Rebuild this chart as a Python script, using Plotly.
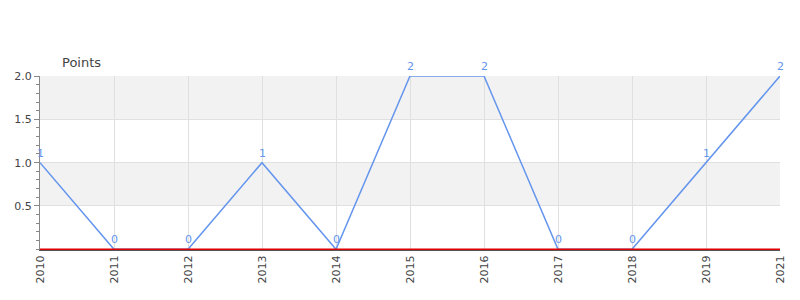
import plotly.graph_objects as go

years = ["2010", "2011", "2012", "2013", "2014", "2015", "2016", "2017", "2018", "2019", "2021"]
points = [1, 0, 0, 1, 0, 2, 2, 0, 0, 1, 2]
band_ranges = [(0.5, 1.0), (1.5, 2.0)]
y_ticks = [0.5, 1.0, 1.5, 2.0]

fig = go.Figure()
fig.add_trace(go.Scatter(
    x=years, y=points, mode="lines",
    line=dict(color="#6495ED", width=1.5),
    cliponaxis=False, hoverinfo="x+y",
))

for lo, hi in band_ranges:
    fig.add_shape(type="rect", xref="paper", yref="y", x0=0, x1=1, y0=lo, y1=hi,
                  fillcolor="#f2f2f2", line=dict(width=0), layer="below")

# red baseline at zero
fig.add_shape(type="line", xref="paper", yref="y", x0=0, x1=1, y0=0, y1=0,
              line=dict(color="#e00000", width=1.5), layer="above")

annotations = [dict(text="Points", xref="paper", yref="paper", x=0, y=1, xshift=20, yshift=4,
                    xanchor="left", yanchor="bottom", showarrow=False,
                    font=dict(size=13, color="#444"))]
for i, v in enumerate(points):
    annotations.append(dict(x=i, y=v, xref="x", yref="y", text=str(v), showarrow=False,
                            yanchor="bottom", yshift=1,
                            font=dict(color="#6495ED", size=11, family="DejaVu Sans")))

fig.update_layout(
    width=800, height=300,
    margin=dict(l=40, r=20, t=76, b=50),
    paper_bgcolor="white", plot_bgcolor="white",
    showlegend=False,
    font=dict(family="DejaVu Sans", size=11, color="#444"),
    xaxis=dict(type="category", range=[0, len(years) - 1],
               showgrid=True, gridcolor="#e0e0e0", gridwidth=1,
               tickangle=-90, ticks="", showline=True, linecolor="#555", linewidth=1,
               zeroline=False, tickfont=dict(size=11, color="#444")),
    yaxis=dict(range=[-0.008, 2], tickmode="array", tickvals=y_ticks, tickformat=".1f",
               showgrid=True, gridcolor="#e0e0e0", gridwidth=1,
               zeroline=False,
               showline=True, linecolor="#888", linewidth=1,
               ticks="outside", ticklen=5, tickcolor="#888",
               minor=dict(ticks="outside", ticklen=3, tickmode="linear", tick0=0, dtick=0.1,
                          tickcolor="#888", showgrid=False),
               tickfont=dict(size=11, color="#444")),
    annotations=annotations,
)

fig.write_html("out.html")
